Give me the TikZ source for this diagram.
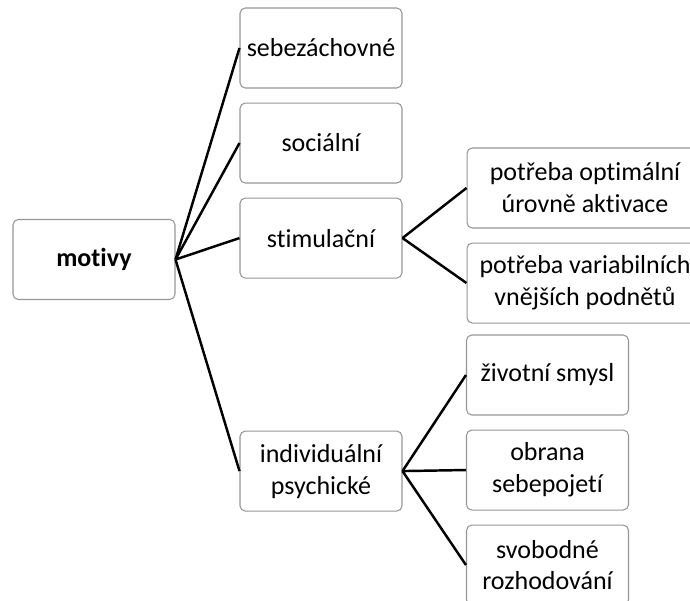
\documentclass[tikz,border=0pt]{standalone}
\usepackage{fontspec}
\setmainfont{Carlito}[Ligatures=NoCommon]
\usepackage{tikz}
\usetikzlibrary{positioning}
\definecolor{boxgray}{RGB}{150,150,150}

\begin{document}
\begin{tikzpicture}[x=0.02cm, y=-0.02cm, node distance=0.28cm and 1.3cm, every node/.style={font=\fontsize{14.8}{18.2}\selectfont}]
\tikzset{box/.style={draw=boxgray, line width=0.6pt, rounded corners=3pt, align=center, minimum width=3.24cm, minimum height=1.6cm, inner sep=1pt, fill=white}}
\tikzset{wide/.style={box, minimum width=4.72cm}}
\tikzset{link/.style={line width=1.4pt}}
\useasboundingbox (0,0) rectangle (690,601);
\node[box] (mot) at (94,259.5) {\textbf{motivy}};
\node[box] (seb) at (321,48) {sebezáchovné};
\node[box, below=of seb] (soc) {sociální};
\node[box, below=of soc] (stim) {stimulační};
\node[box, below=3.04cm of stim] (ind) {individuální\\psychické};
\node[wide] (opt) at (585,188) {potřeba optimální\\úrovně aktivace};
\node[wide, below=of opt] (var) {potřeba variabilních\\vnějších podnětů};
\node[box] (smy) at (547.5,375) {životní smysl};
\node[box, below=of smy] (obr) {obrana\\sebepojetí};
\node[box, below=of obr] (svo) {svobodné\\rozhodování};
% motivy -> druhy
\draw[link] (mot.east) -- (seb.west);
\draw[link] (mot.east) -- (soc.west);
\draw[link] (mot.east) -- (stim.west);
\draw[link] (mot.east) -- (ind.west);
% stimulacni
\draw[link] (stim.east) -- (opt.west);
\draw[link] (stim.east) -- (var.west);
% individualni
\draw[link] (ind.east) -- (smy.west);
\draw[link] (ind.east) -- (obr.west);
\draw[link] (ind.east) -- (svo.west);
\end{tikzpicture}
\end{document}
